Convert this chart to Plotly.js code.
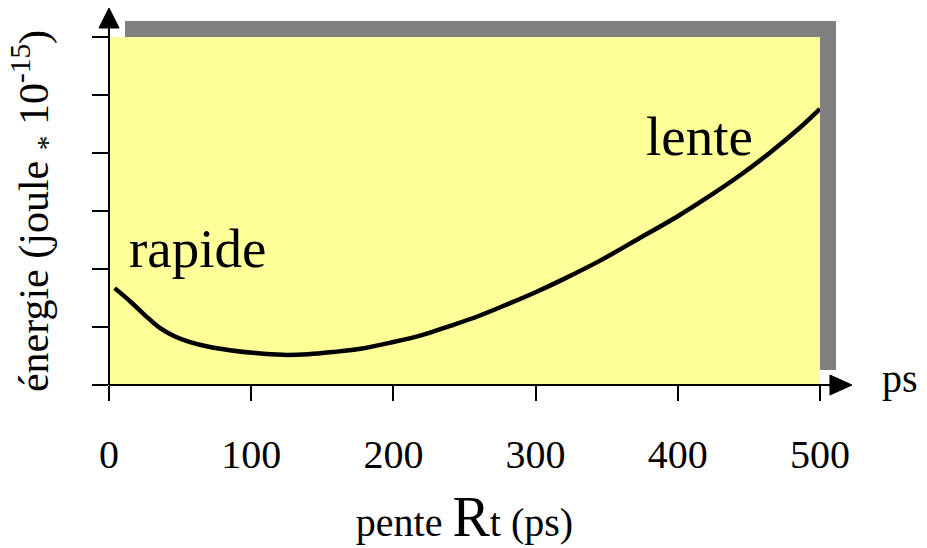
<!DOCTYPE html>
<html>
<head>
<meta charset="utf-8">
<script src="https://cdn.plot.ly/plotly-3.0.1.min.js"></script>
<style>html,body{margin:0;padding:0;background:#fff;}#chart{width:927px;height:548px;}</style>
</head>
<body>
<div id="chart"></div>
<script>
// Data
const penteRt = [4, 15, 25, 36, 46, 57, 71, 85, 103, 122, 140, 158, 178, 198, 220, 240, 260, 280, 300, 320, 345, 373, 400, 420, 444, 465, 486, 500];
const energie = [1.67, 1.44, 1.21, 0.98, 0.84, 0.74, 0.655, 0.60, 0.55, 0.52, 0.53, 0.57, 0.63, 0.73, 0.86, 1.02, 1.19, 1.39, 1.60, 1.83, 2.14, 2.53, 2.91, 3.22, 3.62, 4.01, 4.44, 4.76];
const xTickVals = [0, 100, 200, 300, 400, 500];
const xTickText = ["0", "100", "200", "300", "400", "500"];
const yTickVals = [0, 1, 2, 3, 4, 5, 6];

const serif = "Liberation Serif, Times New Roman, serif";

const trace = {
  x: penteRt, y: energie, type: "scatter", mode: "lines",
  line: {color: "#000", width: 4.5, shape: "spline", smoothing: 1},
  hoverinfo: "skip"
};

const layout = {
  width: 927, height: 548,
  margin: {l: 109, r: 107, t: 37, b: 163},
  paper_bgcolor: "#fff",
  plot_bgcolor: "rgba(0,0,0,0)",
  showlegend: false,
  font: {family: serif, color: "#000", size: 40},
  xaxis: {
    range: [0, 500], autorange: false,
    tickvals: xTickVals, ticktext: xTickText,
    ticks: "outside", ticklen: 15, tickwidth: 2, tickcolor: "#000",
    ticklabelstandoff: 19,
    tickfont: {family: serif, size: 40, color: "#000"},
    showgrid: false, zeroline: false, showline: false,
    title: {text: "pente <span style='font-size:56px'>R</span>t (ps)", font: {family: serif, size: 40, color: "#000"}, standoff: 36}
  },
  yaxis: {
    range: [0, 6], autorange: false,
    tickvals: yTickVals, showticklabels: false,
    ticks: "outside", ticklen: 16, tickwidth: 2, tickcolor: "#000",
    showgrid: false, zeroline: false, showline: false,
    title: {text: "énergie (joule <sub>*</sub> 10<sup>-15</sup>)", font: {family: serif, size: 42, color: "#000"}, standoff: 30}
  },
  shapes: [
    // gray shadow
    {type: "rect", xref: "paper", yref: "paper", x0: 0.0225, x1: 1.0225, y0: 0.0431, y1: 1.046, fillcolor: "#808080", line: {width: 0}, layer: "below"},
    // yellow plot area
    {type: "rect", xref: "paper", yref: "paper", x0: 0, x1: 1, y0: 0, y1: 1, fillcolor: "#FFFF99", line: {width: 0}, layer: "below"},
    // x axis line
    {type: "line", xref: "paper", yref: "paper", x0: 0, x1: 1.016, y0: 0, y1: 0, line: {color: "#000", width: 2}},
    // y axis line
    {type: "line", xref: "paper", yref: "paper", x0: 0, x1: 0, y0: 0, y1: 1.027, line: {color: "#000", width: 2}},
    // x arrow
    {type: "path", xref: "paper", yref: "paper", path: "M 1.014 0.0287 L 1.045 0 L 1.014 -0.0287 Z", fillcolor: "#000", line: {color: "#000", width: 1}},
    // y arrow
    {type: "path", xref: "paper", yref: "paper", path: "M -0.0141 1.0259 L 0 1.0833 L 0.0141 1.0259 Z", fillcolor: "#000", line: {color: "#000", width: 1}}
  ],
  annotations: [
    {text: "rapide", x: 12.5, y: 2.36, xref: "x", yref: "y", xanchor: "left", yanchor: "middle", showarrow: false, font: {family: serif, size: 55, color: "#000"}},
    {text: "lente", x: 376, y: 4.28, xref: "x", yref: "y", xanchor: "left", yanchor: "middle", showarrow: false, font: {family: serif, size: 55, color: "#000"}},
    {text: "ps", x: 1.084, y: 0.02, xref: "paper", yref: "paper", xanchor: "left", yanchor: "middle", showarrow: false, font: {family: serif, size: 40, color: "#000"}}
  ]
};

Plotly.newPlot("chart", [trace], layout, {displayModeBar: false, staticPlot: true});
</script>
</body>
</html>
